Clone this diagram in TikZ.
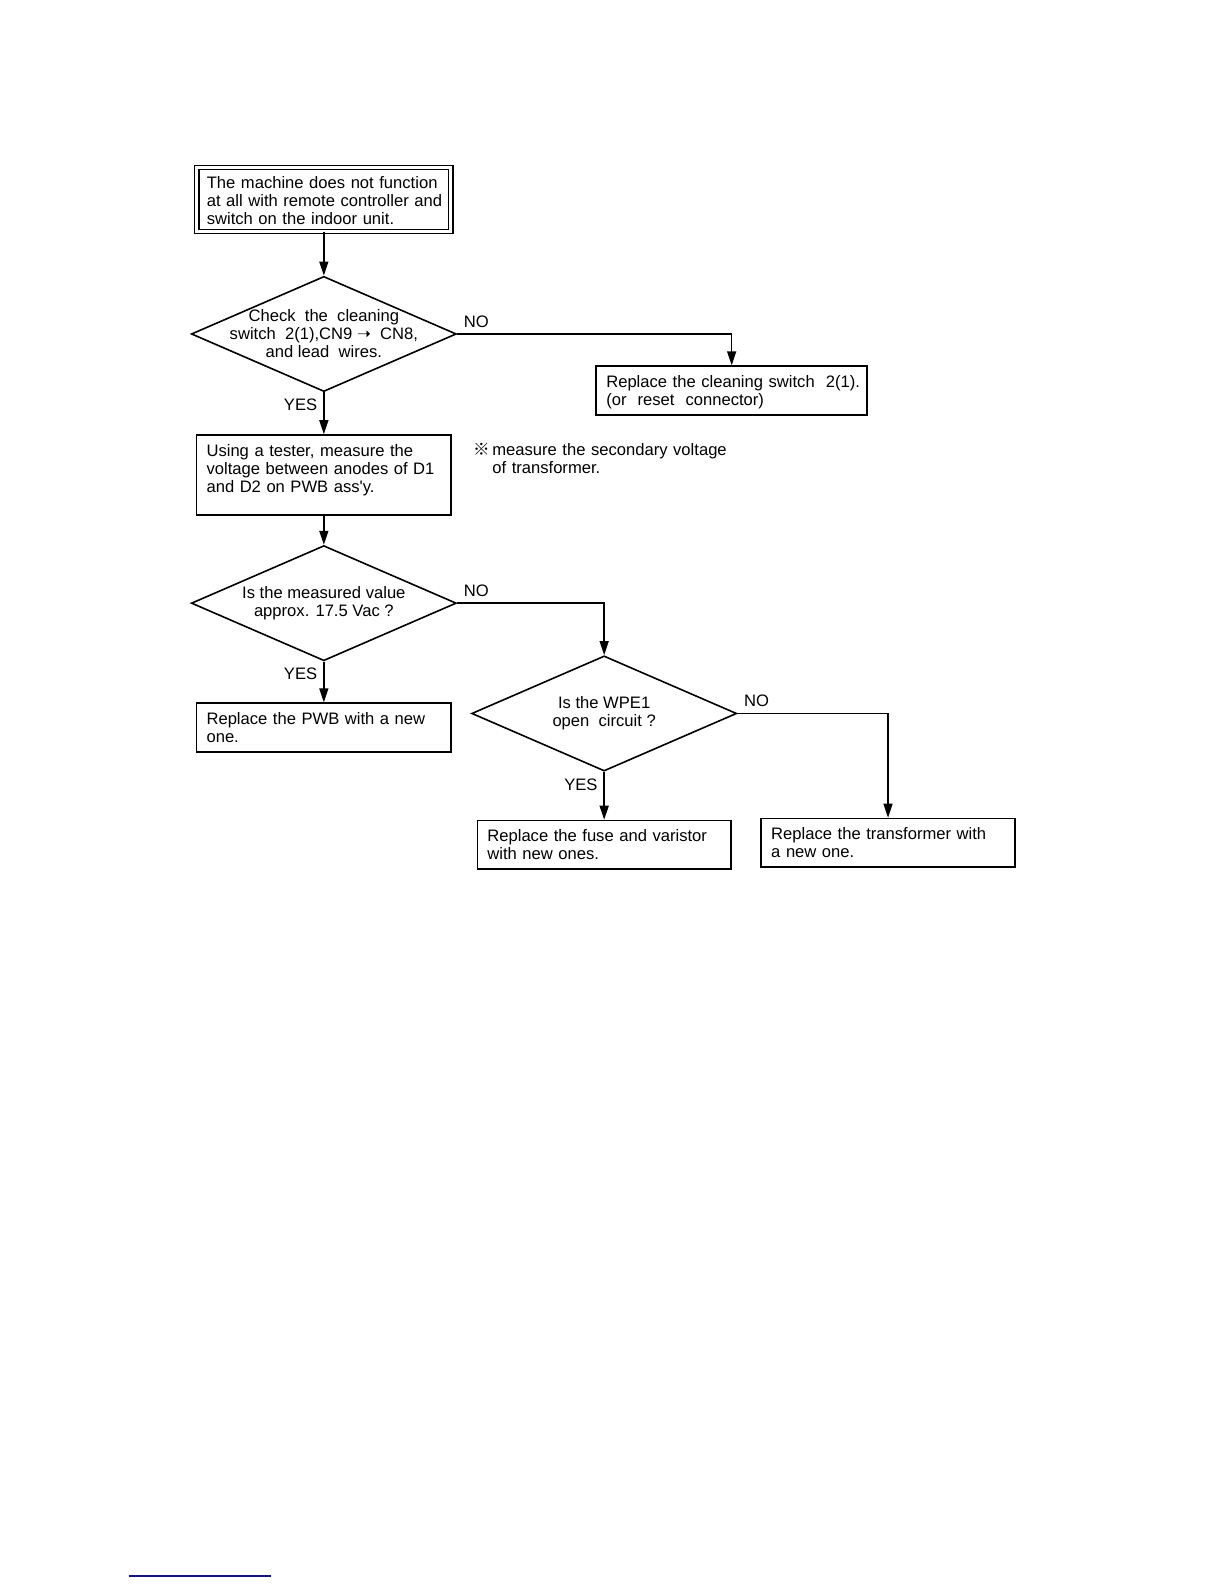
\documentclass[tikz,border=0pt]{standalone}
\usepackage{fontspec}
\setmainfont{Liberation Sans}
\newfontfamily\cjk{Noto Sans CJK JP}
\newfontfamily\symb{DejaVu Sans}
\usetikzlibrary{shapes.geometric,arrows.meta}

\begin{document}
\begin{tikzpicture}[x=0.506pt,y=0.506pt,yscale=-1,xscale=1,
  every node/.style={font=\fontsize{8.3}{9}\selectfont},
  box/.style={draw, line width=0.8pt, inner xsep=5pt, inner ysep=4pt, align=left, text height=6.6pt, anchor=north},
  startbox/.style={box, double, double distance=1.5pt, line width=0.6pt},
  ask/.style={draw, diamond, shape aspect=2.3, line width=0.8pt, minimum width=132.5pt, minimum height=57.6pt, inner sep=-6pt, align=center},
  lbl/.style={inner sep=3pt},
  arr/.style={line width=0.7pt, -{Triangle[length=7pt,width=4.5pt]}}]
%uncomment if require: \path (0,1565); %set diagram left start at 0, and has height of 1565
\useasboundingbox (0,0) rectangle (1209.5,1565.2);

%Shape: Rectangle [id:dp1302247718]
\draw (320,164.7) node (start) [startbox, text width=117pt, text depth=17.6pt] {\mbox{The machine does not function}\\\mbox{at all with remote controller and}\\switch on the indoor unit.};
%Shape: Diamond [id:dp5208839146]
\draw (320,330) node (chk) [ask] {Check\ \ the\ \ cleaning\\switch\ \ 2(1),CN9\ {\symb ➝}\ \ CN8,\\and lead\ \ wires.};
%Shape: Rectangle [id:dp7745120391]
\draw (723,361) node (swap) [box, text width=125.4pt, text depth=9.7pt] {\mbox{Replace the cleaning switch\ \ 2(1).}\\(or\ \ reset\ \ connector)};
%Shape: Rectangle [id:dp2068514473]
\draw (320,429) node (meas) [box, text width=117.3pt, text depth=25.4pt] {\mbox{Using a tester, measure the}\\\mbox{voltage between anodes of D1}\\and D2 on PWB ass\textquotesingle y.};
%Shape: Diamond [id:dp9914302685]
\draw (320,596) node (val) [ask] {Is the measured value\\approx. 17.5 Vac ?};
%Shape: Rectangle [id:dp3360957204]
\draw (320,694) node (pwb) [box, text width=117.3pt, text depth=9.7pt] {\mbox{Replace the PWB with a new}\\one.};
%Shape: Diamond [id:dp4471806632]
\draw (597,705) node (wpe) [ask] {Is the WPE1\\open\ \ circuit ?};
%Shape: Rectangle [id:dp8125530779]
\draw (597,810) node (fuse) [box, text width=116.8pt, text depth=9.7pt] {\mbox{Replace the fuse and varistor}\\with new ones.};
%Shape: Rectangle [id:dp6637049125]
\draw (877.5,808) node (trans) [box, text width=116.8pt, text depth=9.7pt] {\mbox{Replace the transformer with}\\a new one.};

%Straight Lines [id:da4410983672]
\draw [arr] (start.south) -- (chk.north);
%Straight Lines [id:da1879532406]
\draw [arr] (chk.east) node (no1) [lbl, anchor=south west] {NO} -| (swap.north);
%Straight Lines [id:da6025873148]
\draw [arr] (chk.south) node (yes1) [lbl, anchor=north east] {YES} -- (meas.north);
%Straight Lines [id:da3571129804]
\draw [arr] (meas.south) -- (val.north);
%Straight Lines [id:da8302715946]
\draw [arr] (val.east) node (no2) [lbl, anchor=south west] {NO} -| (wpe.north);
%Straight Lines [id:da2749360185]
\draw [arr] (val.south) node (yes2) [lbl, anchor=north east] {YES} -- (pwb.north);
%Straight Lines [id:da9163025587]
\draw [arr] (wpe.east) node (no3) [lbl, anchor=south west] {NO} -| (trans.north);
%Straight Lines [id:da5538176420]
\draw [arr] (wpe.south) node (yes3) [lbl, anchor=north east] {YES} -- (fuse.north);

% Text Node
\draw (467,437) node (note) [anchor=north west, inner sep=0pt, align=left, text width=140pt, text height=6.6pt] {{\cjk ※}\,measure the secondary voltage\\\hphantom{{\cjk ※}\,}of transformer.};

%Straight Lines [id:da7259016683]
\draw [color={rgb, 255:red, 20; green, 20; blue, 130 }, line width=0.8pt] (127,1557) -- (268,1557);

\end{tikzpicture}
\end{document}
